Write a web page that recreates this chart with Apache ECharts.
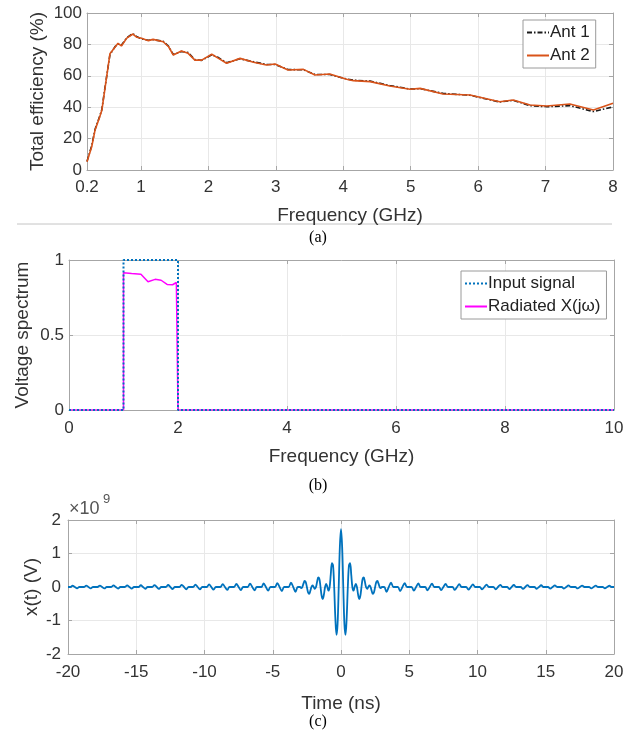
<!DOCTYPE html>
<html><head><meta charset="utf-8">
<script src="https://cdn.jsdelivr.net/npm/echarts@6.0.0/dist/echarts.min.js"></script>
<style>html,body{margin:0;padding:0;background:#fff}#c{width:636px;height:739px}</style>
</head><body><div id="c"></div>
<script>
// ---------- Panel (a): total efficiency ----------
const freqA = [0.2, 0.27, 0.32, 0.39, 0.42, 0.47, 0.54, 0.62, 0.66, 0.71, 0.79, 0.88, 0.94, 1.01, 1.11, 1.18, 1.33, 1.41, 1.48, 1.6, 1.7, 1.8, 1.9, 2.05, 2.15, 2.27, 2.47, 2.67, 2.86, 2.99, 3.18, 3.41, 3.58, 3.8, 4.05, 4.15, 4.4, 4.69, 4.99, 5.14, 5.48, 5.88, 6.32, 6.52, 6.77, 7.02, 7.36, 7.71, 8.0];
const ant1 = [5.5, 15.5, 26, 34.5, 38.5, 53.5, 73.5, 78.8, 80.3, 79.5, 84.3, 86.9, 84.8, 83.6, 82.6, 83, 82, 78.8, 73.5, 75.5, 74.8, 70.3, 69.8, 73.4, 71.6, 68.3, 70.8, 68.9, 67.2, 67.2, 64, 63.8, 60.8, 60.8, 58, 57.2, 56.6, 53.8, 51.6, 51.8, 48.8, 47.6, 43.3, 44.4, 41, 40.3, 41, 37.2, 40.2];
const ant2 = [5.3, 14.8, 25.5, 34, 38, 53, 74, 78.5, 80.7, 79, 84, 86.6, 84.5, 83.9, 82.4, 83.2, 81.7, 78.5, 73.2, 75.8, 74.3, 70, 70, 73.7, 71.1, 68, 71.1, 68.6, 66.9, 67.5, 63.7, 64.1, 60.5, 61.1, 57.8, 56.9, 56.3, 53.5, 51.4, 52, 48.4, 47.8, 43.5, 44.6, 41.4, 40.8, 42, 38.2, 42.5];
const freqTicksA = [0.2, 1, 2, 3, 4, 5, 6, 7, 8];

// ---------- Panel (b): voltage spectrum ----------
const inputFreq = [0, 1, 1, 2, 2, 10];
const inputVals = [0, 0, 1, 1, 0, 0];
const radFreq = [0, 1, 1, 1.15, 1.32, 1.45, 1.58, 1.69, 1.8, 1.9, 1.97, 2, 2, 10];
const radVals = [0, 0, 0.915, 0.91, 0.905, 0.855, 0.871, 0.865, 0.837, 0.835, 0.85, 0.85, 0, 0];

// ---------- Panel (c): x(t), in units of 1e9 V ----------
const timeNs = [
-20,-19.833,-19.667,-19.5,-19.333,-19.167,
-19,-18.833,-18.667,-18.5,-18.333,-18.167,
-18,-17.833,-17.667,-17.5,-17.333,-17.167,
-17,-16.833,-16.667,-16.5,-16.333,-16.167,
-16,-15.833,-15.667,-15.5,-15.333,-15.167,
-15,-14.833,-14.667,-14.5,-14.333,-14.167,
-14,-13.833,-13.667,-13.5,-13.333,-13.167,
-13,-12.833,-12.667,-12.5,-12.333,-12.167,
-12,-11.833,-11.667,-11.5,-11.333,-11.167,
-11,-10.833,-10.667,-10.5,-10.333,-10.167,
-10,-9.833,-9.667,-9.5,-9.333,-9.167,
-9,-8.833,-8.667,-8.5,-8.333,-8.167,
-8,-7.833,-7.667,-7.5,-7.333,-7.167,
-7,-6.833,-6.667,-6.5,-6.333,-6.167,
-6,-5.833,-5.667,-5.5,-5.333,-5.167,
-5,-4.833,-4.667,-4.5,-4.333,-4.167,
-4,-3.833,-3.667,-3.5,-3.333,-3.167,
-3,-2.917,-2.833,-2.75,-2.667,-2.583,-2.5,-2.417,-2.333,-2.25,-2.167,-2.083,
-2,-1.917,-1.833,-1.75,-1.667,-1.583,-1.5,-1.417,-1.333,-1.25,-1.167,-1.083,
-1,-0.917,-0.833,-0.75,-0.667,-0.583,-0.5,-0.417,-0.333,-0.25,-0.167,-0.083,
0,
0.083,0.167,0.25,0.333,0.417,0.5,0.583,0.667,0.75,0.833,0.917,1,
1.083,1.167,1.25,1.333,1.417,1.5,1.583,1.667,1.75,1.833,1.917,2,
2.083,2.167,2.25,2.333,2.417,2.5,2.583,2.667,2.75,2.833,2.917,3,
3.167,3.333,3.5,3.667,3.833,4,
4.167,4.333,4.5,4.667,4.833,5,
5.167,5.333,5.5,5.667,5.833,6,
6.167,6.333,6.5,6.667,6.833,7,
7.167,7.333,7.5,7.667,7.833,8,
8.167,8.333,8.5,8.667,8.833,9,
9.167,9.333,9.5,9.667,9.833,10,
10.167,10.333,10.5,10.667,10.833,11,
11.167,11.333,11.5,11.667,11.833,12,
12.167,12.333,12.5,12.667,12.833,13,
13.167,13.333,13.5,13.667,13.833,14,
14.167,14.333,14.5,14.667,14.833,15,
15.167,15.333,15.5,15.667,15.833,16,
16.167,16.333,16.5,16.667,16.833,17,
17.167,17.333,17.5,17.667,17.833,18,
18.167,18.333,18.5,18.667,18.833,19,
19.167,19.333,19.5,19.667,19.833,20
];
const xtVals = [
0,0,0.038,0,-0.040,0,
0,0,0.041,0,-0.042,0,
0,0,0.043,0,-0.044,0,
0,0,0.046,0,-0.047,0,
0,0,0.048,0,-0.050,0,
0,0,0.052,0,-0.053,0,
0,0,0.056,0,-0.057,0,
0,0,0.060,0,-0.062,0,
0,0,0.065,0,-0.067,0,
0,0,0.071,0,-0.073,0,
0,0,0.077,0,-0.080,0,
0,0,0.084,0,-0.088,0,
0,0,0.090,0,-0.094,0,
0,0,0.098,0,-0.102,0,
0,0,0.105,0,-0.110,0,
0,0,0.115,0,-0.120,0,
0,0,0.130,0,-0.143,0,
0,-0.035,0,0.100,0.179,0.146,0,-0.156,-0.204,-0.122,0,0.048,
0,-0.053,0,0.157,0.286,0.238,0,-0.265,-0.358,-0.220,0,0.093,
0,-0.110,0,0.367,0.715,0.645,0,-0.903,-1.431,-1.101,0,1.209,
1.730,
1.209,0,-1.101,-1.431,-0.903,0,0.645,0.715,0.367,0,-0.110,0,
0.093,0,-0.220,-0.358,-0.265,0,0.238,0.286,0.157,0,-0.053,0,
0.048,0,-0.122,-0.204,-0.156,0,0.146,0.179,0.100,0,-0.035,0,
0,-0.143,0,0.130,0,0,
0,-0.120,0,0.115,0,0,
0,-0.110,0,0.105,0,0,
0,-0.102,0,0.098,0,0,
0,-0.094,0,0.090,0,0,
0,-0.088,0,0.084,0,0,
0,-0.080,0,0.077,0,0,
0,-0.073,0,0.071,0,0,
0,-0.067,0,0.065,0,0,
0,-0.062,0,0.060,0,0,
0,-0.057,0,0.056,0,0,
0,-0.053,0,0.052,0,0,
0,-0.050,0,0.048,0,0,
0,-0.047,0,0.046,0,0,
0,-0.044,0,0.043,0,0,
0,-0.042,0,0.041,0,0,
0,-0.040,0,0.038,0,0
];

const FF = '"Liberation Sans", Arial, sans-serif';
const SERIF = '"Liberation Serif", "Times New Roman", serif';
const AX = '#a6a6a6', GRID = '#e8e8e8', TXT = '#333333';
const zip = (a, b) => a.map((v, i) => [v, b[i]]);

function mainAxis(o) {
  const base = {
    type: 'value', splitNumber: 10,
    axisLine: { show: true, onZero: false, lineStyle: { color: AX, width: 1 } },
    axisTick: { show: true, inside: true, length: 4, lineStyle: { color: AX } },
    axisLabel: { color: TXT, fontSize: 17, fontFamily: FF, showMinLabel: true, showMaxLabel: true },
    splitLine: { show: true, lineStyle: { color: GRID, width: 1 } },
    nameLocation: 'middle',
    nameTextStyle: { color: TXT, fontSize: 19, fontFamily: FF }
  };
  const r = Object.assign({}, base, o);
  ['axisLine', 'axisTick', 'axisLabel', 'splitLine'].forEach(k => { if (o[k]) r[k] = Object.assign({}, base[k], o[k]); });
  return r;
}
function mirrorAxis(o) {
  return Object.assign({
    type: 'value',
    axisLine: { show: true, onZero: false, lineStyle: { color: AX, width: 1 } },
    axisTick: Object.assign({ show: true, inside: true, length: 4, lineStyle: { color: AX } }, o.tick || {}),
    axisLabel: { show: false },
    splitLine: { show: false }
  }, o.rest);
}
function legendBox(o) {
  return Object.assign({
    orient: 'vertical', itemWidth: 22, itemHeight: 10, itemGap: 6,
    padding: [4, 6, 4, 3], borderColor: '#9a9a9a', borderWidth: 1, backgroundColor: '#ffffff',
    itemStyle: { opacity: 0 },
    textStyle: { fontSize: 17, color: '#222', fontFamily: FF, padding: [0, 0, 0, -4] }
  }, o);
}

const chart = echarts.init(document.getElementById('c'), null, { renderer: 'canvas' });
chart.setOption({
  animation: false,
  backgroundColor: '#ffffff',
  grid: [
    { left: 87, top: 13, width: 526, height: 157 },
    { left: 69, top: 260, width: 545, height: 150 },
    { left: 68, top: 520, width: 546, height: 134 }
  ],
  xAxis: [
    mainAxis({ gridIndex: 0, min: 0.2, max: 8, name: 'Frequency (GHz)', nameGap: 36,
      axisLabel: { customValues: freqTicksA, margin: 9 }, axisTick: { customValues: freqTicksA } }),
    mirrorAxis({ tick: { customValues: freqTicksA }, rest: { gridIndex: 0, position: 'top', min: 0.2, max: 8 } }),
    mainAxis({ gridIndex: 1, min: 0, max: 10, interval: 2, name: 'Frequency (GHz)', nameGap: 37, axisLabel: { margin: 10 } }),
    mirrorAxis({ rest: { gridIndex: 1, position: 'top', min: 0, max: 10, interval: 2 } }),
    mainAxis({ gridIndex: 2, min: -20, max: 20, interval: 5, name: 'Time (ns)', nameGap: 40, axisLabel: { margin: 10 } }),
    mirrorAxis({ rest: { gridIndex: 2, position: 'top', min: -20, max: 20, interval: 5 } })
  ],
  yAxis: [
    mainAxis({ gridIndex: 0, min: 0, max: 100, interval: 20, name: 'Total efficiency (%)', nameGap: 40, nameMoveOverlap: false, axisLabel: { margin: 5 } }),
    mirrorAxis({ rest: { gridIndex: 0, position: 'right', min: 0, max: 100, interval: 20 } }),
    mainAxis({ gridIndex: 1, min: 0, max: 1, interval: 0.5, name: 'Voltage spectrum', nameGap: 37, nameMoveOverlap: false, axisLabel: { margin: 5 } }),
    mirrorAxis({ rest: { gridIndex: 1, position: 'right', min: 0, max: 1, interval: 0.5 } }),
    mainAxis({ gridIndex: 2, min: -2, max: 2, interval: 1, name: 'x(t) (V)', nameGap: 27, nameMoveOverlap: false, axisLabel: { margin: 7 } }),
    mirrorAxis({ rest: { gridIndex: 2, position: 'right', min: -2, max: 2, interval: 1 } })
  ],
  legend: [
    legendBox({ data: ['Ant 1', 'Ant 2'], left: 523, top: 20 }),
    legendBox({ data: ['Input signal', 'Radiated X(jω)'], left: 461, top: 271 })
  ],
  series: [
    { name: 'Ant 1', type: 'line', xAxisIndex: 0, yAxisIndex: 0, data: zip(freqA, ant1), symbol: 'none', showSymbol: false,
      lineStyle: { color: '#1a1a1a', width: 1.6, type: [5, 2, 1.5, 2] }, itemStyle: { color: '#1a1a1a' } },
    { name: 'Ant 2', type: 'line', xAxisIndex: 0, yAxisIndex: 0, data: zip(freqA, ant2), symbol: 'none', showSymbol: false,
      lineStyle: { color: '#D95319', width: 1.6 }, itemStyle: { color: '#D95319' } },
    { name: 'Radiated X(jω)', type: 'line', xAxisIndex: 2, yAxisIndex: 2, data: zip(radFreq, radVals), symbol: 'none', showSymbol: false,
      lineStyle: { color: '#FF00FF', width: 1.5 }, itemStyle: { color: '#FF00FF' } },
    { name: 'Input signal', type: 'line', xAxisIndex: 2, yAxisIndex: 2, data: zip(inputFreq, inputVals), symbol: 'none', showSymbol: false,
      lineStyle: { color: '#0072BD', width: 2, type: [2, 2] }, itemStyle: { color: '#0072BD' } },
    { name: 'x(t)', type: 'line', xAxisIndex: 4, yAxisIndex: 4, data: zip(timeNs, xtVals), symbol: 'none', showSymbol: false,
      smooth: 0.35, lineStyle: { color: '#0072BD', width: 1.8 }, itemStyle: { color: '#0072BD' } }
  ],
  graphic: [
    { type: 'line', shape: { x1: 17, y1: 224, x2: 612, y2: 224 }, style: { stroke: '#c4c4c4', lineWidth: 1 } },
    { type: 'text', x: 318, y: 238, style: { text: '(a)', font: '16px ' + SERIF, fill: '#000', align: 'center', verticalAlign: 'middle' } },
    { type: 'text', x: 318, y: 486, style: { text: '(b)', font: '16px ' + SERIF, fill: '#000', align: 'center', verticalAlign: 'middle' } },
    { type: 'text', x: 318, y: 722, style: { text: '(c)', font: '16px ' + SERIF, fill: '#000', align: 'center', verticalAlign: 'middle' } },
    { type: 'text', x: 69, y: 509, style: { text: '×10', font: '18px ' + FF, fill: '#555', align: 'left', verticalAlign: 'middle' } },
    { type: 'text', x: 103, y: 499, style: { text: '9', font: '13px ' + FF, fill: '#555', align: 'left', verticalAlign: 'middle' } }
  ]
});
</script>
</body></html>
